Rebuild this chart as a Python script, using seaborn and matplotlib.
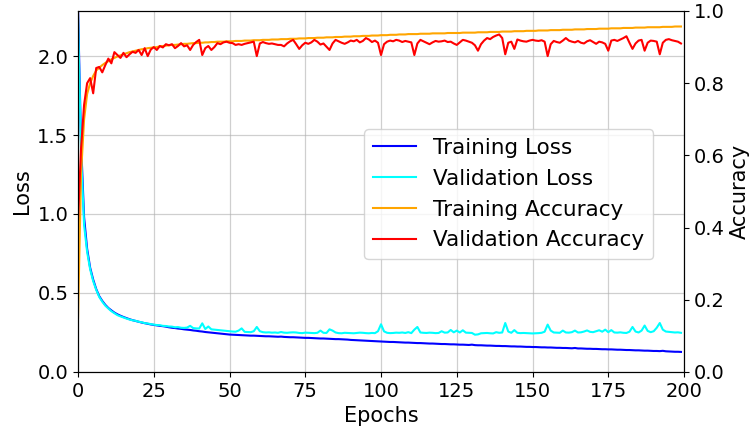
import numpy as np
import pandas as pd
import matplotlib
matplotlib.use("Agg")
import matplotlib.pyplot as plt
import seaborn as sns

epochs = list(range(200))

train_loss = [
    2.300, 1.450, 0.980, 0.780, 0.660, 0.585, 0.525, 0.480, 0.450, 0.425,
    0.405, 0.390, 0.376, 0.365, 0.356, 0.348, 0.341, 0.334, 0.328, 0.323,
    0.318, 0.313, 0.309, 0.305, 0.301, 0.298, 0.295, 0.292, 0.290, 0.287,
    0.283, 0.280, 0.278, 0.275, 0.273, 0.270, 0.268, 0.266, 0.263, 0.261,
    0.258, 0.256, 0.253, 0.251, 0.249, 0.247, 0.245, 0.243, 0.241, 0.239,
    0.237, 0.236, 0.235, 0.234, 0.233, 0.232, 0.231, 0.230, 0.230, 0.229,
    0.228, 0.227, 0.226, 0.226, 0.225, 0.224, 0.223, 0.224, 0.222, 0.221,
    0.220, 0.220, 0.219, 0.218, 0.217, 0.216, 0.216, 0.215, 0.214, 0.213,
    0.212, 0.212, 0.211, 0.210, 0.209, 0.208, 0.208, 0.207, 0.206, 0.205,
    0.203, 0.202, 0.201, 0.200, 0.199, 0.198, 0.197, 0.196, 0.195, 0.194,
    0.193, 0.192, 0.191, 0.190, 0.190, 0.189, 0.188, 0.187, 0.186, 0.186,
    0.185, 0.184, 0.183, 0.183, 0.182, 0.181, 0.180, 0.180, 0.179, 0.178,
    0.177, 0.177, 0.176, 0.175, 0.175, 0.174, 0.173, 0.173, 0.172, 0.171,
    0.173, 0.170, 0.169, 0.169, 0.168, 0.167, 0.167, 0.166, 0.165, 0.165,
    0.164, 0.164, 0.163, 0.162, 0.162, 0.161, 0.161, 0.160, 0.159, 0.159,
    0.158, 0.158, 0.157, 0.156, 0.156, 0.155, 0.155, 0.154, 0.153, 0.153,
    0.152, 0.152, 0.151, 0.150, 0.152, 0.149, 0.149, 0.148, 0.147, 0.147,
    0.146, 0.146, 0.145, 0.144, 0.144, 0.143, 0.143, 0.142, 0.141, 0.141,
    0.140, 0.139, 0.139, 0.138, 0.137, 0.137, 0.136, 0.135, 0.135, 0.134,
    0.133, 0.133, 0.132, 0.134, 0.131, 0.130, 0.129, 0.128, 0.128, 0.127,
]

val_loss = [
    2.250, 1.380, 0.930, 0.760, 0.650, 0.575, 0.520, 0.475, 0.445, 0.420,
    0.402, 0.385, 0.372, 0.360, 0.352, 0.345, 0.338, 0.332, 0.327, 0.324,
    0.318, 0.315, 0.309, 0.307, 0.303, 0.300, 0.297, 0.296, 0.292, 0.291,
    0.288, 0.287, 0.283, 0.284, 0.280, 0.279, 0.281, 0.292, 0.278, 0.276,
    0.275, 0.308, 0.272, 0.288, 0.270, 0.268, 0.266, 0.264, 0.262, 0.260,
    0.258, 0.256, 0.255, 0.262, 0.276, 0.254, 0.253, 0.252, 0.258, 0.285,
    0.258, 0.252, 0.250, 0.251, 0.249, 0.250, 0.248, 0.253, 0.249, 0.248,
    0.250, 0.251, 0.250, 0.247, 0.246, 0.249, 0.248, 0.247, 0.246, 0.248,
    0.262, 0.248, 0.247, 0.270, 0.262, 0.250, 0.246, 0.245, 0.248, 0.247,
    0.246, 0.245, 0.247, 0.249, 0.248, 0.246, 0.245, 0.247, 0.246, 0.258,
    0.302, 0.257, 0.248, 0.246, 0.247, 0.249, 0.248, 0.250, 0.247, 0.252,
    0.246, 0.268, 0.285, 0.250, 0.248, 0.247, 0.249, 0.248, 0.246, 0.247,
    0.258, 0.249, 0.250, 0.266, 0.251, 0.262, 0.250, 0.264, 0.249, 0.248,
    0.247, 0.236, 0.238, 0.245, 0.246, 0.247, 0.245, 0.244, 0.252, 0.248,
    0.250, 0.310, 0.256, 0.248, 0.265, 0.248, 0.246, 0.247, 0.246, 0.245,
    0.244, 0.245, 0.246, 0.248, 0.255, 0.300, 0.262, 0.250, 0.249, 0.248,
    0.262, 0.250, 0.249, 0.252, 0.262, 0.250, 0.251, 0.256, 0.263, 0.254,
    0.252, 0.258, 0.264, 0.255, 0.268, 0.252, 0.265, 0.250, 0.249, 0.251,
    0.248, 0.247, 0.255, 0.285, 0.256, 0.250, 0.262, 0.294, 0.260, 0.252,
    0.258, 0.280, 0.310, 0.268, 0.256, 0.254, 0.252, 0.250, 0.251, 0.248,
]

train_acc = [
    0.150, 0.550, 0.700, 0.770, 0.800, 0.820, 0.835, 0.843, 0.850, 0.856,
    0.861, 0.866, 0.870, 0.874, 0.877, 0.880, 0.883, 0.886, 0.888, 0.890,
    0.892, 0.894, 0.895, 0.897, 0.898, 0.899, 0.900, 0.902, 0.903, 0.904,
    0.905, 0.906, 0.906, 0.907, 0.908, 0.909, 0.909, 0.910, 0.911, 0.911,
    0.912, 0.912, 0.913, 0.913, 0.914, 0.914, 0.915, 0.915, 0.915, 0.916,
    0.916, 0.916, 0.917, 0.917, 0.917, 0.918, 0.918, 0.918, 0.919, 0.919,
    0.919, 0.920, 0.920, 0.920, 0.921, 0.921, 0.921, 0.922, 0.922, 0.922,
    0.923, 0.923, 0.923, 0.924, 0.924, 0.924, 0.925, 0.925, 0.925, 0.926,
    0.926, 0.926, 0.927, 0.927, 0.927, 0.928, 0.928, 0.928, 0.929, 0.929,
    0.929, 0.930, 0.930, 0.930, 0.931, 0.931, 0.931, 0.932, 0.932, 0.932,
    0.933, 0.933, 0.933, 0.934, 0.934, 0.934, 0.935, 0.935, 0.935, 0.936,
    0.936, 0.936, 0.936, 0.937, 0.937, 0.937, 0.937, 0.938, 0.938, 0.938,
    0.938, 0.938, 0.939, 0.939, 0.939, 0.939, 0.939, 0.940, 0.940, 0.940,
    0.940, 0.940, 0.941, 0.941, 0.941, 0.941, 0.942, 0.942, 0.942, 0.942,
    0.943, 0.943, 0.943, 0.943, 0.944, 0.944, 0.944, 0.944, 0.945, 0.945,
    0.945, 0.945, 0.946, 0.946, 0.946, 0.946, 0.947, 0.947, 0.947, 0.947,
    0.948, 0.948, 0.948, 0.948, 0.949, 0.949, 0.949, 0.949, 0.950, 0.950,
    0.950, 0.950, 0.951, 0.951, 0.951, 0.951, 0.952, 0.952, 0.952, 0.952,
    0.953, 0.953, 0.953, 0.953, 0.954, 0.954, 0.954, 0.954, 0.955, 0.955,
    0.955, 0.955, 0.955, 0.956, 0.956, 0.956, 0.956, 0.957, 0.957, 0.957,
]

val_acc = [
    0.420, 0.620, 0.740, 0.800, 0.814, 0.772, 0.842, 0.845, 0.830, 0.850,
    0.868, 0.855, 0.886, 0.878, 0.870, 0.884, 0.872, 0.880, 0.887, 0.884,
    0.892, 0.878, 0.897, 0.875, 0.893, 0.900, 0.892, 0.903, 0.899, 0.908,
    0.905, 0.908, 0.897, 0.903, 0.911, 0.902, 0.905, 0.892, 0.906, 0.914,
    0.920, 0.878, 0.897, 0.903, 0.892, 0.900, 0.911, 0.908, 0.913, 0.915,
    0.912, 0.911, 0.906, 0.908, 0.906, 0.909, 0.911, 0.913, 0.915, 0.875,
    0.910, 0.914, 0.911, 0.909, 0.910, 0.908, 0.906, 0.906, 0.902, 0.910,
    0.916, 0.920, 0.908, 0.895, 0.905, 0.912, 0.909, 0.913, 0.920, 0.915,
    0.907, 0.910, 0.901, 0.892, 0.910, 0.920, 0.916, 0.912, 0.909, 0.913,
    0.918, 0.916, 0.920, 0.913, 0.917, 0.925, 0.921, 0.914, 0.918, 0.912,
    0.878, 0.908, 0.915, 0.918, 0.916, 0.920, 0.918, 0.914, 0.917, 0.915,
    0.913, 0.878, 0.910, 0.920, 0.916, 0.912, 0.908, 0.913, 0.917, 0.915,
    0.916, 0.918, 0.914, 0.915, 0.910, 0.906, 0.913, 0.920, 0.918, 0.915,
    0.912, 0.905, 0.890, 0.908, 0.918, 0.925, 0.922, 0.928, 0.932, 0.935,
    0.925, 0.880, 0.912, 0.915, 0.895, 0.921, 0.918, 0.916, 0.915, 0.918,
    0.920, 0.918, 0.917, 0.919, 0.915, 0.875, 0.908, 0.917, 0.914, 0.912,
    0.918, 0.925, 0.918, 0.915, 0.913, 0.917, 0.912, 0.910, 0.916, 0.919,
    0.914, 0.909, 0.915, 0.913, 0.909, 0.890, 0.918, 0.920, 0.917, 0.921,
    0.925, 0.930, 0.912, 0.895, 0.910, 0.918, 0.920, 0.890, 0.912, 0.918,
    0.917, 0.915, 0.880, 0.912, 0.920, 0.922, 0.919, 0.917, 0.915, 0.910,
]

series_names = ["Training Loss", "Validation Loss", "Training Accuracy", "Validation Accuracy"]
series_colors = ["blue", "cyan", "orange", "red"]

fig, ax = plt.subplots(figsize=(7.51, 4.29), dpi=100)
fig.subplots_adjust(left=0.1039, right=0.9108, bottom=0.1329, top=0.9744)
ax2 = ax.twinx()

sns.lineplot(x=epochs, y=train_loss, ax=ax, color=series_colors[0], label=series_names[0], legend=False, linewidth=1.5)
sns.lineplot(x=epochs, y=val_loss, ax=ax, color=series_colors[1], label=series_names[1], legend=False, linewidth=1.5)
sns.lineplot(x=epochs, y=train_acc, ax=ax2, color=series_colors[2], label=series_names[2], legend=False, linewidth=1.5)
sns.lineplot(x=epochs, y=val_acc, ax=ax2, color=series_colors[3], label=series_names[3], legend=False, linewidth=1.5)

ax.set_xlim(0, 200)
ax.set_ylim(0, 2.285)
ax2.set_ylim(0, 1.0)
ax.set_yticks([0.0, 0.5, 1.0, 1.5, 2.0])
ax2.set_yticks([0.0, 0.2, 0.4, 0.6, 0.8, 1.0])

ax.grid(True, color="#b0b0b0", alpha=0.6, linewidth=0.9)
ax2.grid(False)

ax.set_xlabel("Epochs", fontsize=15)
ax.set_ylabel("Loss", fontsize=15)
ax2.set_ylabel("Accuracy", fontsize=15)
ax.tick_params(labelsize=14)
ax2.tick_params(labelsize=14)

h1, l1 = ax.get_legend_handles_labels()
h2, l2 = ax2.get_legend_handles_labels()
ax2.legend(h1 + h2, l1 + l2, loc="upper right", bbox_to_anchor=(0.949, 0.672),
           borderaxespad=0, fontsize=15.5)

fig.savefig("out.png", dpi=100)
